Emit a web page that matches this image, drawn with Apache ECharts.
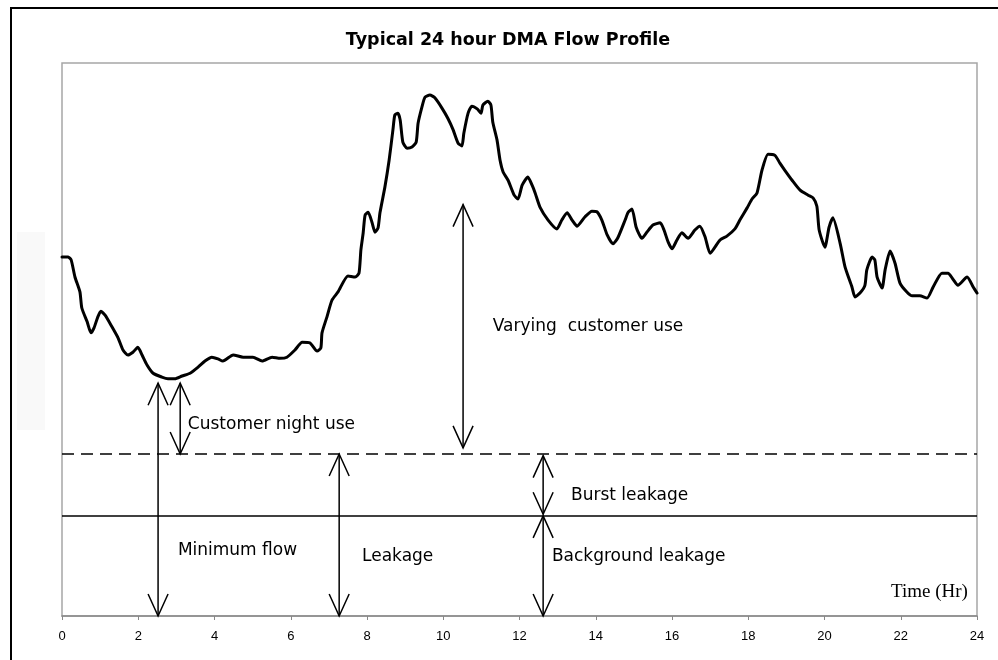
<!DOCTYPE html>
<html><head><meta charset="utf-8">
<script src="https://cdn.jsdelivr.net/npm/echarts@6/dist/echarts.min.js"></script>
<style>html,body{margin:0;padding:0;background:#fff}#c{width:998px;height:660px}</style>
</head><body><div id="c"></div>
<script>
// ---- data ----
var timeHr = [0,0.16,0.24,0.34,0.47,0.52,0.66,0.76,0.84,0.94,1.02,1.13,1.31,1.47,1.60,1.73,1.86,1.99,2.10,2.23,2.39,2.62,2.78,2.96,3.15,3.36,3.57,3.75,3.93,4.09,4.22,4.49,4.75,5.01,5.25,5.51,5.72,5.90,6.11,6.30,6.50,6.69,6.79,6.82,6.95,7.08,7.24,7.50,7.69,7.79,7.84,7.90,7.95,8.03,8.13,8.21,8.29,8.34,8.47,8.58,8.68,8.73,8.81,8.87,8.94,9.05,9.18,9.29,9.34,9.44,9.52,9.65,9.78,9.97,10.12,10.26,10.39,10.49,10.54,10.65,10.75,10.89,10.99,11.04,11.17,11.25,11.30,11.41,11.49,11.57,11.70,11.86,11.96,12.07,12.22,12.33,12.41,12.54,12.75,12.98,13.11,13.25,13.38,13.51,13.72,13.90,14.03,14.16,14.30,14.45,14.58,14.77,14.85,14.95,15.06,15.21,15.34,15.50,15.69,15.79,15.90,16.00,16.13,16.26,16.42,16.60,16.73,16.87,17.00,17.26,17.44,17.65,17.78,17.97,18.10,18.23,18.36,18.52,18.70,18.83,18.96,19.15,19.36,19.57,19.70,19.80,19.86,20.01,20.12,20.22,20.41,20.54,20.72,20.80,20.93,21.06,21.11,21.25,21.32,21.38,21.51,21.59,21.72,21.85,21.98,22.16,22.30,22.50,22.69,22.85,23.08,23.24,23.37,23.50,23.74,23.90,24.00];
var flow = [64.9,64.9,64.4,61.3,58.6,55.7,53.2,51.2,52.1,54.1,55.1,54.4,52.3,50.3,48.1,47.2,47.7,48.6,47.2,45.4,43.9,43.2,42.9,42.9,43.4,43.9,45.0,46.1,46.8,46.5,46.1,47.2,46.8,46.8,46.1,46.8,46.6,46.8,48.1,49.5,49.4,47.9,48.5,51.2,54.1,57.1,58.6,61.5,61.3,62.0,66.2,69.3,72.5,73.0,71.2,69.4,70.2,72.9,77.6,82.4,87.9,90.6,90.9,89.7,85.7,84.6,84.8,85.7,89.1,92.0,93.8,94.2,93.7,91.8,90.0,87.9,85.5,85.0,87.3,90.9,92.2,91.7,90.9,92.4,93.1,92.4,89.3,86.1,82.4,80.3,78.8,76.1,75.4,77.9,79.4,77.9,76.5,73.9,71.6,70.0,71.6,72.9,71.6,70.5,72.2,73.2,73.1,71.6,68.9,67.3,68.4,71.6,73.0,73.6,70.3,68.3,69.4,70.7,71.1,69.8,67.6,66.4,68.0,69.3,68.3,69.8,70.5,68.5,65.6,68.0,68.7,70.0,71.6,73.8,75.4,76.5,80.6,83.5,83.3,81.9,80.6,78.8,77.0,76.1,75.6,74.1,69.8,66.7,70.3,72.0,67.4,63.1,59.5,57.7,58.4,59.8,62.6,64.9,64.4,61.3,59.3,62.6,66.0,63.8,60.2,58.6,57.9,57.9,57.5,59.5,62.0,62.0,60.9,59.8,61.3,59.5,58.4];
var totalLeakageLevel = 29.3;      // dashed line
var backgroundLeakageLevel = 18.1; // solid line
var xTicks = [0,2,4,6,8,10,12,14,16,18,20,22,24];

// annotation arrows: [time, from, to]
var arrowTime = [2.52, 3.10, 10.52, 7.27, 12.62, 12.62];
var arrowFrom = [0, 29.3, 30.4, 0, 18.4, 0];
var arrowTo   = [42.1, 42.1, 74.4, 29.3, 29.0, 18.1];

// annotation texts
var noteText = ['Customer night use','Varying  customer use','Burst leakage','Minimum flow','Leakage','Background leakage'];
var noteTime = [3.30, 11.30, 13.35, 3.04, 7.87, 12.85];
var noteFlow = [34.7, 52.3, 21.7, 11.8, 10.7, 10.7];

// ---- chart ----
var chart = echarts.init(document.getElementById('c'), null, {renderer:'canvas'});
var lineData = timeHr.map(function(t,i){return [t, flow[i]];});
var arrowData = arrowTime.map(function(t,i){return [t, arrowFrom[i], arrowTo[i]];});
var noteData = noteTime.map(function(t,i){return [t, noteFlow[i], noteText[i]];});

function headPts(p, dir){ // dir: -1 tip points up, +1 tip points down
  return [[p[0]-10, p[1]-dir*22],[p[0], p[1]],[p[0]+10, p[1]-dir*22]];
}

chart.setOption({
  animation:false,
  backgroundColor:'#fff',
  title:{text:'Typical 24 hour DMA Flow Profile', left:503, top:26, textAlign:'center',
    textStyle:{fontFamily:'DejaVu Sans', fontSize:17.5, fontWeight:'bold', color:'#000'}},
  graphic:[
    {type:'rect', shape:{x:11,y:8,width:1000,height:700}, style:{fill:'none', stroke:'#000', lineWidth:2}, silent:true, z:-1},
    {type:'rect', shape:{x:17,y:232,width:28,height:198}, style:{fill:'#f9f9f9'}, silent:true, z:-2}
  ],
  grid:{left:62, right:21, top:63, bottom:44, show:true, borderColor:'#a6a6a6', borderWidth:1.5},
  xAxis:{type:'value', min:0, max:24, interval:2,
    axisLine:{show:true, lineStyle:{color:'#888', width:1.5}},
    axisTick:{show:true, length:4, lineStyle:{color:'#888'}},
    axisLabel:{color:'#000', fontSize:13, fontFamily:'Liberation Sans, Arial', margin:14},
    splitLine:{show:false}},
  yAxis:{type:'value', min:0, max:100, show:false, splitLine:{show:false}},
  series:[
    {type:'line', data:lineData, showSymbol:false, symbol:'none', smooth:0.2,
     lineStyle:{color:'#000', width:3, join:'round', cap:'round'}, z:5,
     markLine:{silent:true, symbol:'none', label:{show:false},
       data:[
         {yAxis:totalLeakageLevel, lineStyle:{color:'#000', width:1.5, type:[12,7]}},
         {yAxis:backgroundLeakageLevel, lineStyle:{color:'#000', width:1.5, type:'solid'}}
       ]}},
    {type:'custom', data:arrowData, z:6, silent:true,
     renderItem:function(params, api){
       var t = api.value(0);
       var pLow = api.coord([t, api.value(1)]);
       var pHigh = api.coord([t, api.value(2)]);
       var st = {stroke:'#000', lineWidth:1.5, fill:'none'};
       return {type:'group', children:[
         {type:'line', shape:{x1:pLow[0], y1:pLow[1], x2:pHigh[0], y2:pHigh[1]}, style:st},
         {type:'polyline', shape:{points:headPts(pHigh,-1)}, style:st},
         {type:'polyline', shape:{points:headPts(pLow,1)}, style:st}
       ]};
     }},
    {type:'custom', data:noteData, z:7, silent:true,
     renderItem:function(params, api){
       var p = api.coord([api.value(0), api.value(1)]);
       return {type:'text', x:p[0], y:p[1], style:{text:noteText[params.dataIndex], fill:'#000',
         font:'17px "DejaVu Sans"', textAlign:'left', textVerticalAlign:'middle'}};
     }},
    {type:'custom', data:[[23.76, 4.3]], z:7, silent:true,
     renderItem:function(params, api){
       var p = api.coord([api.value(0), api.value(1)]);
       return {type:'text', x:p[0], y:p[1], style:{text:'Time (Hr)', fill:'#000',
         font:'19px "Liberation Serif", "Times New Roman", serif', textAlign:'right', textVerticalAlign:'middle'}};
     }}
  ]
});
</script></body></html>
